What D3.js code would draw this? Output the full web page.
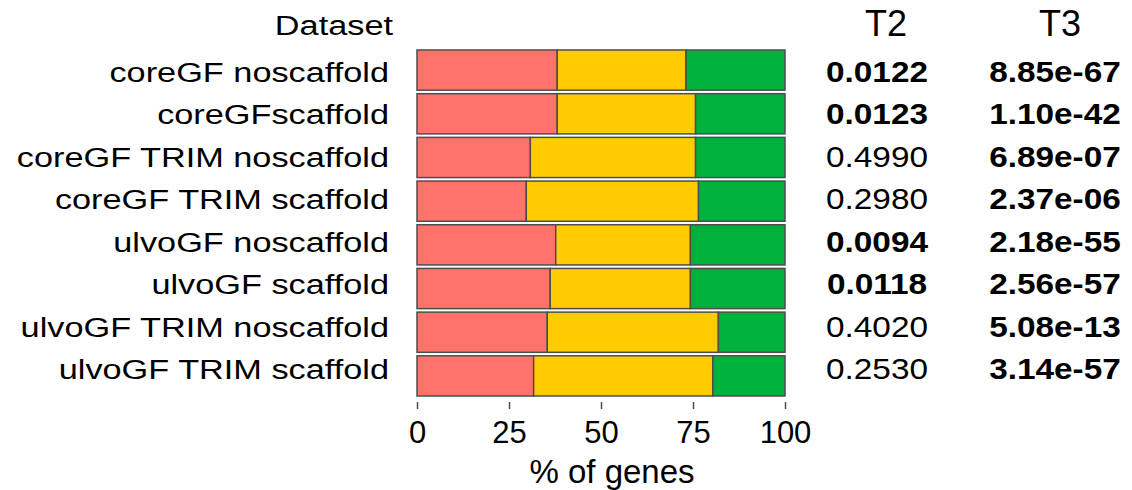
<html>
<head>
<title>Stacked bars</title>
<script type="text/javascript" src="https://cdn.jsdelivr.net/npm/d3@7"></script>
<style type="text/css">
body { margin: 0; background: white; }
text { font-family: "Liberation Sans", Arial, sans-serif; fill: #000; }
.axis path { display: none; }
.axis line { stroke: #4d4d4d; stroke-width: 1.5px; }
.bar rect { stroke: #4d4d4d; stroke-width: 1.5px; }
</style>
</head>
<body>
<script>

var width = 1132,
    height = 490;

// data
var datasets = ["coreGF noscaffold", "coreGFscaffold", "coreGF TRIM noscaffold", "coreGF TRIM scaffold",
                "ulvoGF noscaffold", "ulvoGF scaffold", "ulvoGF TRIM noscaffold", "ulvoGF TRIM scaffold"];
var lowPct  = [38.1, 38.1, 30.8, 29.7, 37.7, 36.2, 35.4, 31.7];
var midPct  = [35.0, 37.6, 44.9, 46.8, 36.6, 38.1, 46.5, 48.7];
var highPct = [26.9, 24.3, 24.3, 23.5, 25.7, 25.7, 18.1, 19.6];
var t2 = ["0.0122", "0.0123", "0.4990", "0.2980", "0.0094", "0.0118", "0.4020", "0.2530"];
var t2Bold = [true, true, false, false, true, true, false, false];
var t3 = ["8.85e-67", "1.10e-42", "6.89e-07", "2.37e-06", "2.18e-55", "2.56e-57", "5.08e-13", "3.14e-57"];
var xTicks = [0, 25, 50, 75, 100];
var segKeys = ["low", "mid", "high"];
var segColors = ["#ff736b", "#ffcc00", "#00b23c"];

var rows = datasets.map(function(d, i) {
  return {name: d, low: lowPct[i], mid: midPct[i], high: highPct[i]};
});

var svg = d3.select("body").append("svg").attr("width", width).attr("height", height);

var x = d3.scaleLinear().domain([0, 100]).range([417, 785]);
var y = d3.scaleBand().domain(datasets).range([46.5, 399.5]).padding(0.08);
// text rows sit on a slightly tighter spacing than the bars
var ty = d3.scalePoint().domain(datasets).range([82, 379]);

var color = d3.scaleOrdinal().domain(segKeys).range(segColors);
var stack = d3.stack().keys(segKeys)(rows);

svg.append("g").attr("class", "bar")
  .selectAll("g").data(stack).enter().append("g")
  .attr("fill", function(d) { return color(d.key); })
  .selectAll("rect").data(function(d) { return d; }).enter().append("rect")
  .attr("x", function(d) { return x(d[0]); })
  .attr("y", function(d) { return y(d.data.name); })
  .attr("width", function(d) { return x(d[1]) - x(d[0]); })
  .attr("height", y.bandwidth());

// axis
var axis = svg.append("g").attr("class", "axis")
  .attr("transform", "translate(0,402)")
  .call(d3.axisBottom(x).tickValues(xTicks).tickSize(7).tickPadding(12).tickFormat(d3.format("d")));
axis.selectAll("text").style("font-size", "31px").attr("fill", "#000");

svg.append("text").attr("x", 612).attr("y", 483)
  .attr("text-anchor", "middle").style("font-size", "33px").text("% of genes");

// the labels in the picture are stretched sideways
function stretched(sel, sx) {
  return sel.attr("transform", function(d) {
    return "translate(" + d.x + "," + d.y + ") scale(" + sx + ",1)";
  });
}

var labels = datasets.map(function(d) { return {x: 389, y: ty(d), t: d}; });
labels.push({x: 393, y: 35, t: "Dataset"});
stretched(svg.append("g").selectAll("text").data(labels).enter().append("text"), 1.27)
  .attr("text-anchor", "end").style("font-size", "27px")
  .text(function(d) { return d.t; });

var t2Cells = datasets.map(function(d, i) { return {x: 877, y: ty(d), t: t2[i], b: t2Bold[i]}; });
var t3Cells = datasets.map(function(d, i) { return {x: 1055, y: ty(d), t: t3[i], b: true}; });
stretched(svg.append("g").selectAll("text").data(t2Cells.concat(t3Cells)).enter().append("text"), 1.15)
  .attr("text-anchor", "middle").style("font-size", "29px")
  .style("font-weight", function(d) { return d.b ? "bold" : "normal"; })
  .text(function(d) { return d.t; });

svg.selectAll("text.head").data([[886, "T2"], [1060, "T3"]]).enter().append("text")
  .attr("class", "head")
  .attr("x", function(d) { return d[0]; }).attr("y", 36)
  .attr("text-anchor", "middle").style("font-size", "36px")
  .text(function(d) { return d[1]; });

</script>
</body>
</html>
